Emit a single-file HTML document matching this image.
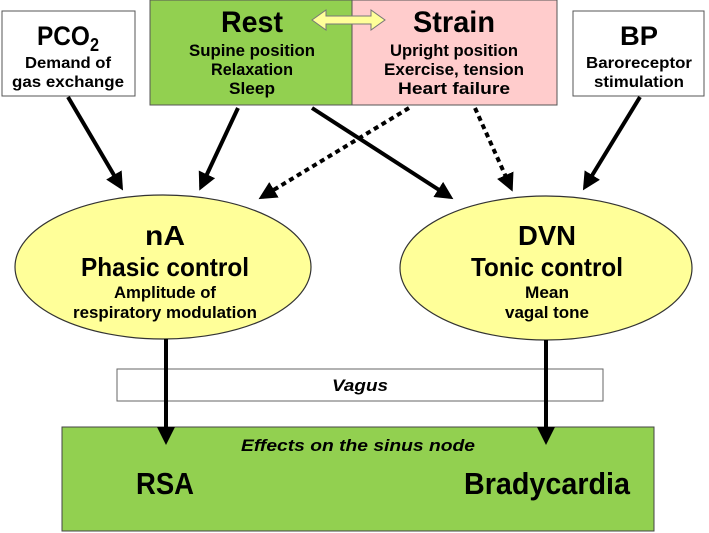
<!DOCTYPE html>
<html><head><meta charset="utf-8"><style>
html,body{margin:0;padding:0;background:#fff}
svg{display:block}
text{font-family:"Liberation Sans",Arial,sans-serif;font-weight:bold;fill:#000}
</style></head><body>
<svg width="709" height="533" viewBox="0 0 709 533" xmlns="http://www.w3.org/2000/svg">
<defs>
<marker id="ah" markerWidth="4.5" markerHeight="4.5" refX="3.5" refY="2.25" orient="auto" markerUnits="strokeWidth">
<path d="M0,0 L4.5,2.25 L0,4.5 z" fill="#000"/></marker>
</defs>
<rect x="2" y="11" width="133" height="85" fill="#fff" stroke="#555" stroke-width="1"/>
<rect x="150" y="0" width="202" height="105" fill="#92d050" stroke="#555" stroke-width="1"/>
<rect x="352" y="0" width="205" height="105" fill="#ffcccc" stroke="#555" stroke-width="1"/>
<rect x="573" y="11" width="131" height="85" fill="#fff" stroke="#555" stroke-width="1"/>
<path d="M312,20 L326,10 L326,16 L371,16 L371,10 L385,20 L371,30 L371,24 L326,24 L326,30 z" fill="#ffff99" stroke="#777" stroke-width="1"/>
<text x="68" y="45" font-size="27" text-anchor="middle" textLength="62" lengthAdjust="spacingAndGlyphs">PCO<tspan font-size="18" dy="6">2</tspan></text>
<text x="68" y="68" font-size="16" text-anchor="middle" textLength="86" lengthAdjust="spacingAndGlyphs">Demand of</text>
<text x="68" y="87" font-size="16" text-anchor="middle" textLength="112" lengthAdjust="spacingAndGlyphs">gas exchange</text>
<text x="252" y="32" font-size="30" text-anchor="middle" textLength="62" lengthAdjust="spacingAndGlyphs">Rest</text>
<text x="252" y="56" font-size="17" text-anchor="middle" textLength="126" lengthAdjust="spacingAndGlyphs">Supine position</text>
<text x="252" y="75" font-size="17" text-anchor="middle" textLength="82" lengthAdjust="spacingAndGlyphs">Relaxation</text>
<text x="252" y="94" font-size="17" text-anchor="middle" textLength="46" lengthAdjust="spacingAndGlyphs">Sleep</text>
<text x="454" y="32" font-size="30" text-anchor="middle" textLength="82" lengthAdjust="spacingAndGlyphs">Strain</text>
<text x="454" y="56" font-size="17" text-anchor="middle" textLength="128" lengthAdjust="spacingAndGlyphs">Upright position</text>
<text x="454" y="75" font-size="17" text-anchor="middle" textLength="140" lengthAdjust="spacingAndGlyphs">Exercise, tension</text>
<text x="454" y="94" font-size="17" text-anchor="middle" textLength="112" lengthAdjust="spacingAndGlyphs">Heart failure</text>
<text x="639" y="45" font-size="27" text-anchor="middle" textLength="38" lengthAdjust="spacingAndGlyphs">BP</text>
<text x="639" y="68" font-size="16" text-anchor="middle" textLength="106" lengthAdjust="spacingAndGlyphs">Baroreceptor</text>
<text x="639" y="87" font-size="16" text-anchor="middle" textLength="90" lengthAdjust="spacingAndGlyphs">stimulation</text>
<g stroke="#000" stroke-width="4" fill="none">
<line x1="68" y1="97" x2="121" y2="187" marker-end="url(#ah)"/>
<line x1="238" y1="108" x2="201" y2="187" marker-end="url(#ah)"/>
<line x1="312" y1="108" x2="450" y2="197" marker-end="url(#ah)"/>
<line x1="409" y1="108" x2="262" y2="197" stroke-dasharray="5,4" marker-end="url(#ah)"/>
<line x1="475" y1="108" x2="511" y2="188" stroke-dasharray="5,4" marker-end="url(#ah)"/>
<line x1="640" y1="97" x2="585" y2="187" marker-end="url(#ah)"/>
</g>
<ellipse cx="163" cy="267" rx="148" ry="72" fill="#ffff99" stroke="#333" stroke-width="1.2"/>
<ellipse cx="546" cy="268" rx="146" ry="72" fill="#ffff99" stroke="#333" stroke-width="1.2"/>
<text x="165" y="245" font-size="28" text-anchor="middle" textLength="40" lengthAdjust="spacingAndGlyphs">nA</text>
<text x="165" y="276" font-size="26" text-anchor="middle" textLength="168" lengthAdjust="spacingAndGlyphs">Phasic control</text>
<text x="165" y="298" font-size="17" text-anchor="middle" textLength="102" lengthAdjust="spacingAndGlyphs">Amplitude of</text>
<text x="165" y="318" font-size="17" text-anchor="middle" textLength="184" lengthAdjust="spacingAndGlyphs">respiratory modulation</text>
<text x="547" y="245" font-size="28" text-anchor="middle" textLength="58" lengthAdjust="spacingAndGlyphs">DVN</text>
<text x="547" y="276" font-size="26" text-anchor="middle" textLength="152" lengthAdjust="spacingAndGlyphs">Tonic control</text>
<text x="547" y="298" font-size="17" text-anchor="middle" textLength="44" lengthAdjust="spacingAndGlyphs">Mean</text>
<text x="547" y="318" font-size="17" text-anchor="middle" textLength="84" lengthAdjust="spacingAndGlyphs">vagal tone</text>
<rect x="117" y="369" width="486" height="32" fill="#fff" stroke="#666" stroke-width="1"/>
<text x="360" y="391" font-size="17" font-style="italic" text-anchor="middle" textLength="56" lengthAdjust="spacingAndGlyphs">Vagus</text>
<rect x="62" y="427" width="592" height="104" fill="#92d050" stroke="#444" stroke-width="1"/>
<text x="358" y="451" font-size="17" font-style="italic" text-anchor="middle" textLength="234" lengthAdjust="spacingAndGlyphs">Effects on the sinus node</text>
<text x="165" y="494" font-size="31" text-anchor="middle" textLength="58" lengthAdjust="spacingAndGlyphs">RSA</text>
<text x="547" y="494" font-size="31" text-anchor="middle" textLength="166" lengthAdjust="spacingAndGlyphs">Bradycardia</text>
<g stroke="#000" stroke-width="4" fill="none">
<line x1="166" y1="339" x2="166" y2="441" marker-end="url(#ah)"/>
<line x1="546" y1="340" x2="546" y2="441" marker-end="url(#ah)"/>
</g>
</svg>
</body></html>
